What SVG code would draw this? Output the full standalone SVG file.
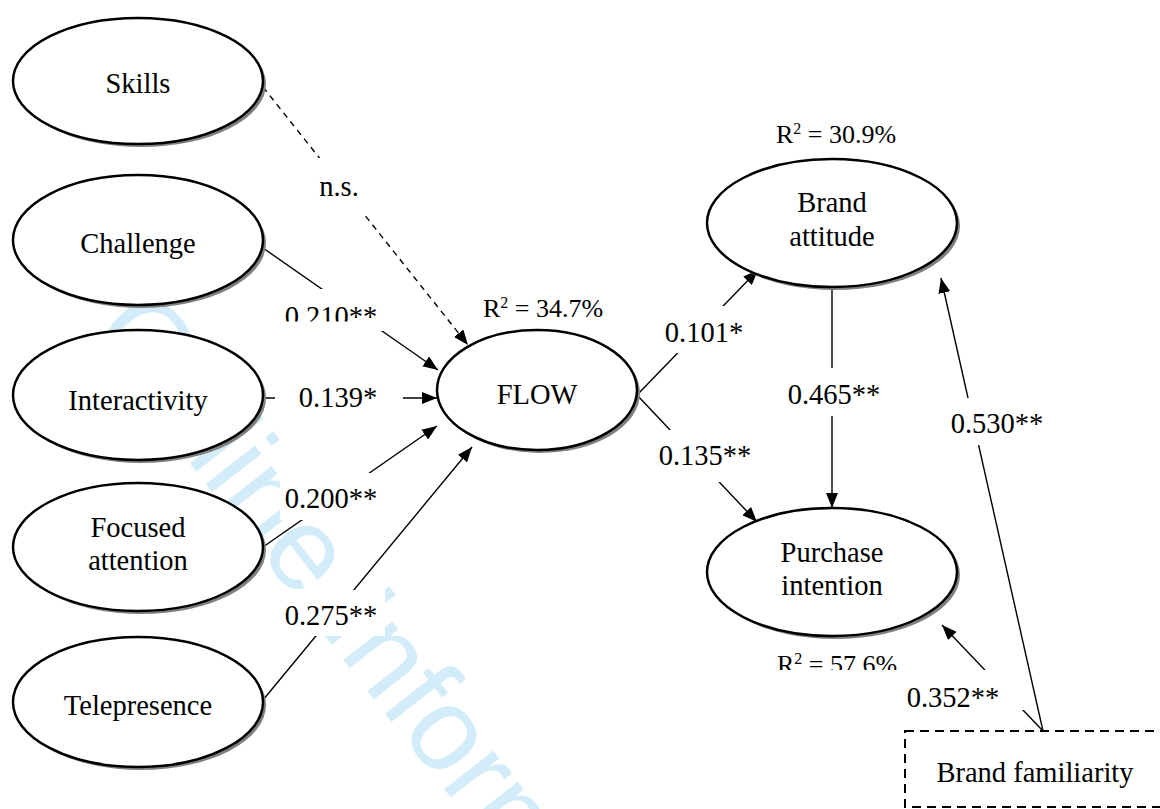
<svg xmlns="http://www.w3.org/2000/svg" width="1160" height="809" viewBox="0 0 1160 809">
<style>
  .t { font-family: "Liberation Serif", "Times New Roman", serif; font-size: 28.5px; fill: #000; text-anchor: middle; }
  .r2 { font-family: "Liberation Serif", "Times New Roman", serif; font-size: 26px; fill: #000; text-anchor: middle; }
  .sup { font-size: 16px; }
  .shadow { fill: #808080; stroke: none; }
  .node { fill: #fff; stroke: #000; stroke-width: 2.5; }
  .edge { stroke: #000; stroke-width: 1.4; fill: none; }
  .dash { stroke-dasharray: 6 5; }
  .bg { fill: #fff; stroke: none; }
  .wm { font-family: "Liberation Sans", Arial, sans-serif; font-size: 118px; fill: #d3ecfa; }
</style>
<defs>
  <marker id="arr" markerUnits="userSpaceOnUse" markerWidth="16" markerHeight="12" refX="15" refY="6" orient="auto">
    <path d="M0,0 L15,6 L0,12 z" fill="#000"/>
  </marker>
  <clipPath id="clip210"><rect x="270" y="290" width="120" height="31.5"/></clipPath>
  <clipPath id="clip576"><rect x="760" y="640" width="160" height="30"/></clipPath>
</defs>
<rect width="1160" height="809" fill="#fff"/>

<text class="wm" transform="translate(88,333) rotate(52)">Online Information Review</text>

<g id="connectors">
  <line class="edge dash" x1="263" y1="87" x2="468" y2="345" marker-end="url(#arr)"/>
  <line class="edge" x1="263" y1="248" x2="438" y2="370" marker-end="url(#arr)"/>
  <line class="edge" x1="263" y1="398" x2="437" y2="398" marker-end="url(#arr)"/>
  <line class="edge" x1="263" y1="547" x2="437" y2="426" marker-end="url(#arr)"/>
  <line class="edge" x1="263" y1="700" x2="472" y2="447" marker-end="url(#arr)"/>
  <line class="edge" x1="637" y1="395" x2="758" y2="270" marker-end="url(#arr)"/>
  <line class="edge" x1="637" y1="395" x2="757" y2="522" marker-end="url(#arr)"/>
  <line class="edge" x1="832" y1="287" x2="832" y2="508" marker-end="url(#arr)"/>
  <line class="edge" x1="1043" y1="731" x2="941" y2="278" marker-end="url(#arr)"/>
  <line class="edge" x1="1043" y1="731" x2="942" y2="625" marker-end="url(#arr)"/>
</g>

<g id="edge-labels">
  <rect class="bg" x="312" y="158" width="62" height="58"/>
  <text class="t" x="339" y="196">n.s.</text>
  <rect class="bg" x="280" y="289" width="105" height="42"/>
  <text class="t" x="331" y="326" clip-path="url(#clip210)">0.210**</text>
  <rect class="bg" x="275" y="383" width="128" height="30"/>
  <text class="t" x="338" y="407">0.139*</text>
  <rect class="bg" x="280" y="473" width="105" height="47"/>
  <text class="t" x="331" y="508">0.200**</text>
  <rect class="bg" x="280" y="590" width="105" height="46"/>
  <text class="t" x="331" y="625">0.275**</text>
  <rect class="bg" x="660" y="306" width="90" height="47"/>
  <text class="t" x="704" y="342">0.101*</text>
  <rect class="bg" x="650" y="430" width="110" height="52"/>
  <text class="t" x="705" y="465">0.135**</text>
  <rect class="bg" x="785" y="368" width="100" height="48"/>
  <text class="t" x="834" y="404">0.465**</text>
  <rect class="bg" x="945" y="398" width="105" height="47"/>
  <text class="t" x="997" y="433">0.530**</text>
  <rect class="bg" x="900" y="670" width="125" height="40"/>
  <text class="t" x="953" y="707">0.352**</text>
</g>

<g id="skills">
  <ellipse class="shadow" cx="141" cy="84" rx="125" ry="63"/>
  <ellipse class="node" cx="138" cy="81" rx="125" ry="63"/>
  <text class="t" x="138" y="93">Skills</text>
</g>
<g id="challenge">
  <ellipse class="shadow" cx="141" cy="243" rx="125" ry="65"/>
  <ellipse class="node" cx="138" cy="240" rx="125" ry="65"/>
  <text class="t" x="138" y="253">Challenge</text>
</g>
<g id="interactivity">
  <ellipse class="shadow" cx="141" cy="398" rx="125" ry="65"/>
  <ellipse class="node" cx="138" cy="395" rx="125" ry="65"/>
  <text class="t" x="138" y="410">Interactivity</text>
</g>
<g id="focused-attention">
  <ellipse class="shadow" cx="141" cy="550" rx="125" ry="64"/>
  <ellipse class="node" cx="138" cy="547" rx="125" ry="64"/>
  <text class="t" x="138" y="537">Focused</text>
  <text class="t" x="138" y="570">attention</text>
</g>
<g id="telepresence">
  <ellipse class="shadow" cx="141" cy="705" rx="125" ry="65"/>
  <ellipse class="node" cx="138" cy="702" rx="125" ry="65"/>
  <text class="t" x="138" y="715">Telepresence</text>
</g>
<g id="flow">
  <ellipse class="shadow" cx="540" cy="393" rx="100" ry="60"/>
  <ellipse class="node" cx="537" cy="390" rx="100" ry="60"/>
  <text class="t" x="537" y="404">FLOW</text>
  <text class="r2" x="543" y="317">R<tspan class="sup" dy="-9">2</tspan><tspan dy="9"> = 34.7%</tspan></text>
</g>
<g id="brand-attitude">
  <ellipse class="shadow" cx="835" cy="226" rx="125" ry="64"/>
  <ellipse class="node" cx="832" cy="223" rx="125" ry="64"/>
  <text class="t" x="832" y="212">Brand</text>
  <text class="t" x="832" y="246">attitude</text>
  <text class="r2" x="836" y="143">R<tspan class="sup" dy="-9">2</tspan><tspan dy="9"> = 30.9%</tspan></text>
</g>
<g id="purchase-intention">
  <ellipse class="shadow" cx="835" cy="575" rx="125" ry="64"/>
  <ellipse class="node" cx="832" cy="572" rx="125" ry="64"/>
  <text class="t" x="832" y="562">Purchase</text>
  <text class="t" x="832" y="595">intention</text>
  <text class="r2" x="837" y="673" clip-path="url(#clip576)">R<tspan class="sup" dy="-9">2</tspan><tspan dy="9"> = 57.6%</tspan></text>
</g>
<g id="brand-familiarity">
  <rect x="905" y="731" width="270" height="76" fill="#fff" stroke="#000" stroke-width="2" stroke-dasharray="9 6"/>
  <text class="t" x="1035" y="782">Brand familiarity</text>
</g>
</svg>
